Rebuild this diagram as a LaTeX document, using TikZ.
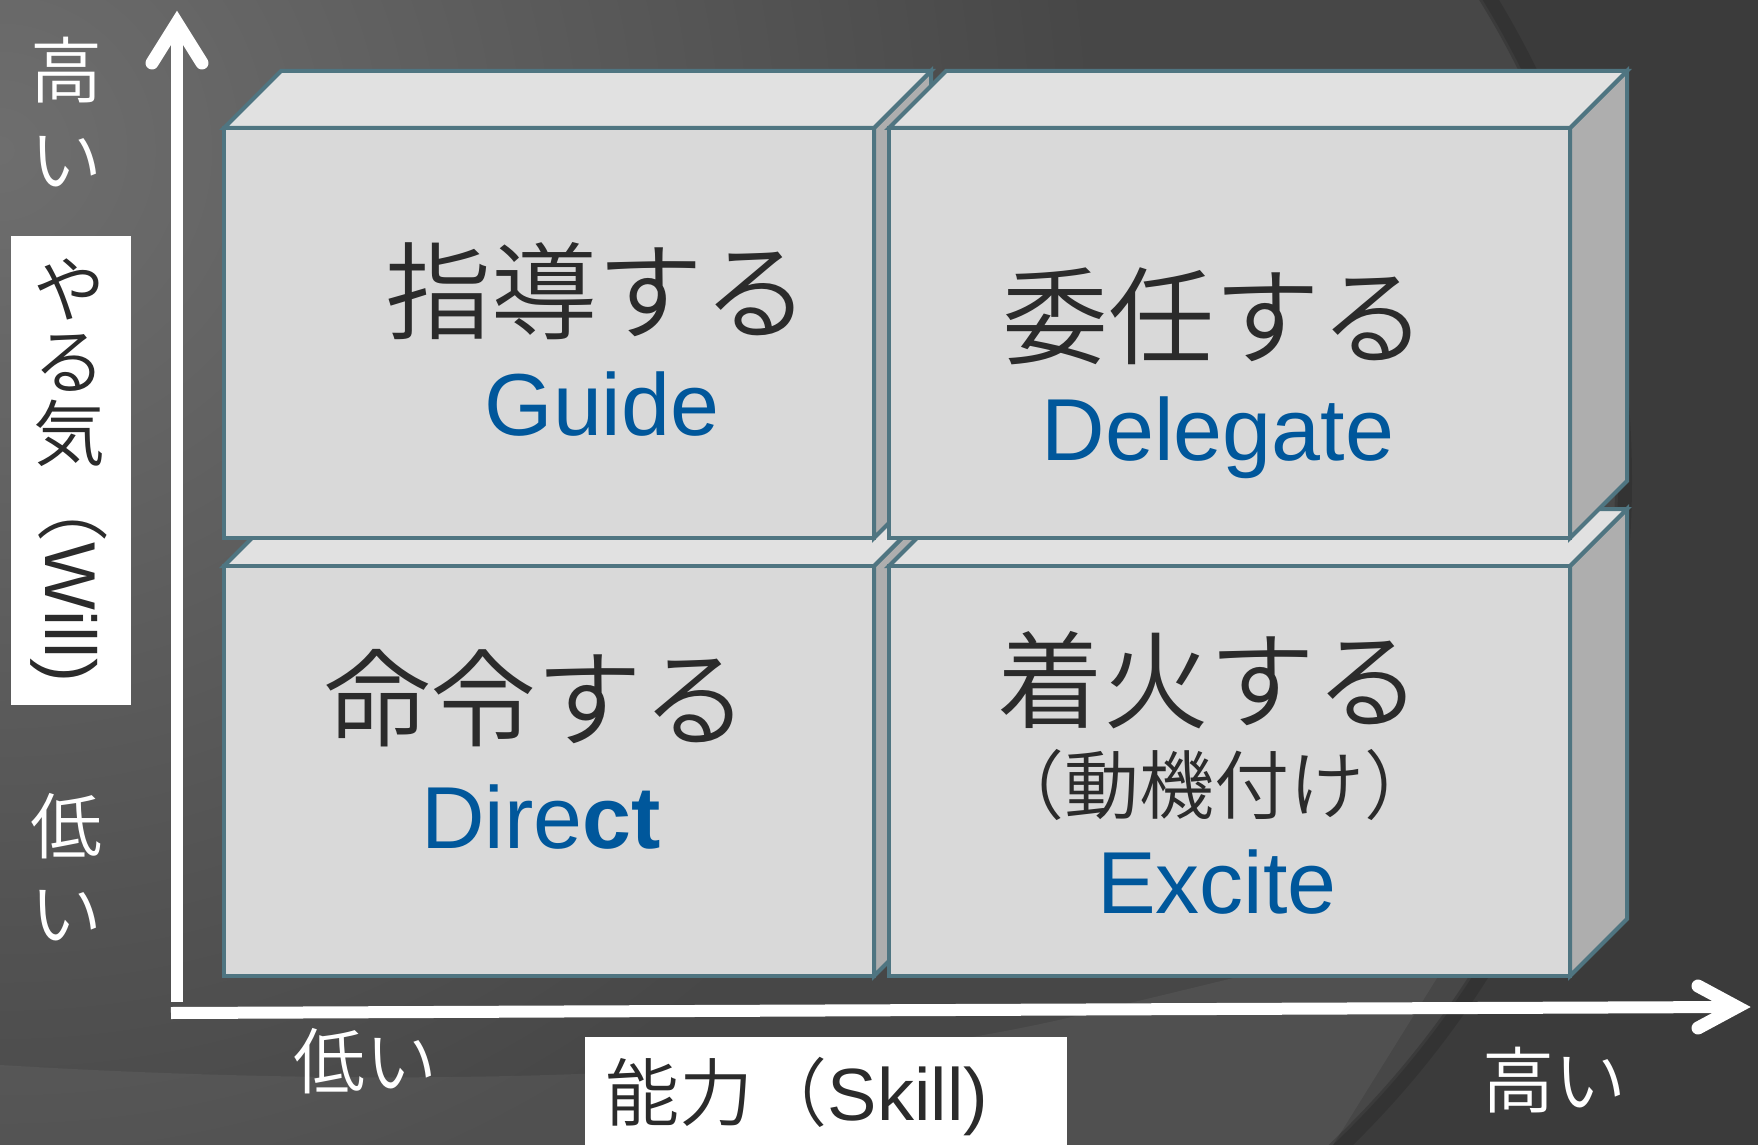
\documentclass[tikz,border=0pt]{standalone}
\usepackage{fontspec}
\setmainfont{Liberation Sans}
\IfFontExistsTF{Noto Sans CJK JP DemiLight}{\newfontfamily\jp{Noto Sans CJK JP DemiLight}}{\newfontfamily\jp{Noto Sans CJK JP}}
\definecolor{edgec}{HTML}{4F7581}
\definecolor{frontc}{HTML}{D9D9D9}
\definecolor{topc}{HTML}{E1E1E1}
\definecolor{sidec}{HTML}{AEAEAE}
\definecolor{jpc}{HTML}{2B2B2B}
\definecolor{enc}{HTML}{00579B}
\definecolor{bgA}{HTML}{6E6E6E}
\definecolor{bgB}{HTML}{474747}
\newcommand{\mycuboid}[4]{%
  \filldraw[boxline, fill=sidec] (#3,#2) -- (#3+57,#2-57) -- (#3+57,#4-57) -- (#3,#4) -- cycle;
  \filldraw[boxline, fill=topc] (#1,#2) -- (#1+57,#2-57) -- (#3+57,#2-57) -- (#3,#2) -- cycle;
  \filldraw[boxline, fill=frontc] (#1,#2) rectangle (#3,#4);
}
\begin{document}
\begin{tikzpicture}[x=0.5pt,y=-0.5pt,
  boxline/.style={draw=edgec, line width=2pt, line join=miter},
  jpmain/.style={font=\jp\fontsize{53pt}{60pt}\selectfont, text=jpc, inner sep=0pt, anchor=base},
  jpsub/.style={font=\jp\fontsize{37.5pt}{42pt}\selectfont, text=jpc, inner sep=0pt, anchor=base},
  enmain/.style={font=\fontsize{44pt}{50pt}\selectfont, text=enc, inner sep=0pt, anchor=base},
  axlab/.style={font=\jp\fontsize{36pt}{40pt}\selectfont, text=white, inner sep=0pt, anchor=base},
  vlab/.style={font=\jp\fontsize{36pt}{40pt}\selectfont, text=jpc, inner sep=0pt, anchor=base},
  axisline/.style={draw=white, line width=6pt},
  axishead/.style={draw=white, line width=6.5pt, line cap=round, line join=miter}]
\useasboundingbox (0,0) rectangle (1758,1145);
% background
\begin{scope}
  \clip (0,0) rectangle (1758,1145);
  \fill[bgB] (0,0) rectangle (1758,1145);
  \shade[inner color=bgA, outer color=bgB] (0,150) circle (1100);
  \fill[white, opacity=0.05] (0,1065) .. controls (450,1092) and (850,1075) .. (1100,1010)
     .. controls (1250,975) and (1380,940) .. (1470,925) -- (1333,1145) -- (0,1145) -- cycle;
  \begin{scope}
    \clip (1000,0) rectangle (1758,1145);
    \fill[black, opacity=0.16, even odd rule] (0,0) rectangle (1758,1145) (700,480) circle (915);
    \draw[black, opacity=0.12, line width=7pt] (700,480) circle (925);
  \end{scope}
\end{scope}
% cuboids
\mycuboid{224}{566}{874}{976}
\mycuboid{889}{566}{1570}{976}
\mycuboid{224}{128}{874}{538}
\mycuboid{889}{128}{1570}{538}
% box texts
\node[jpmain] (t1) at (597,331) {指導する};
\node[enmain] (e1) at (602,435) {Guide};
\node[jpmain] (t2) at (1214,356) {委任する};
\node[enmain] (e2) at (1218,460) {Delegate};
\node[jpmain] (t3) at (536,738) {命令する};
\node[enmain] (e3) at (541,848) {Dire\textbf{ct}};
\node[jpmain] (t4) at (1209,720) {着火する};
\node[jpsub] (s4) at (1214,813) {（動機付け）};
\node[enmain] (e4) at (1217,913) {Excite};
% axes
\coordinate (O) at (177,1002);
\coordinate (ytip) at (177,23);
\coordinate (O2) at (171,1013);
\coordinate (xtip) at (1737,1007);
\draw[axisline] (O) -- (ytip);
\draw[axishead] (ytip) ++(-25,40) -- (ytip) -- ++(25,40);
\draw[axisline] (O2) -- (xtip);
\draw[axishead] (xtip) ++(-39,-21) -- (xtip) -- ++(-39,21);
% axis labels
\node[axlab] (hy1) at (67,98) {高};
\node[axlab] (hy2) at (67,187) {い};
\node[axlab] (ly1) at (67,853) {低};
\node[axlab] (ly2) at (67,940) {い};
\node[axlab] (lx) at (365,1088) {低い};
\node[axlab] (hx) at (1554,1107) {高い};
% will label
\fill[white] (11,236) rectangle (131,705);
\node[vlab] (w1) at (69,316) {や};
\node[vlab] (w2) at (69,388) {る};
\node[vlab] (w3) at (69,460) {気};
\node[rotate=-90, anchor=west, font=\fontsize{36pt}{40pt}\selectfont, text=jpc, inner sep=0pt] (w4) at (69,470) {{\jp （}Will)};
% skill label
\fill[white] (585,1037) rectangle (1067,1150);
\node[font=\fontsize{37pt}{42pt}\selectfont, text=jpc, inner sep=0pt, anchor=base] (skill) at (797,1120) {{\jp 能力（}Skill)};
\end{tikzpicture}
\end{document}
